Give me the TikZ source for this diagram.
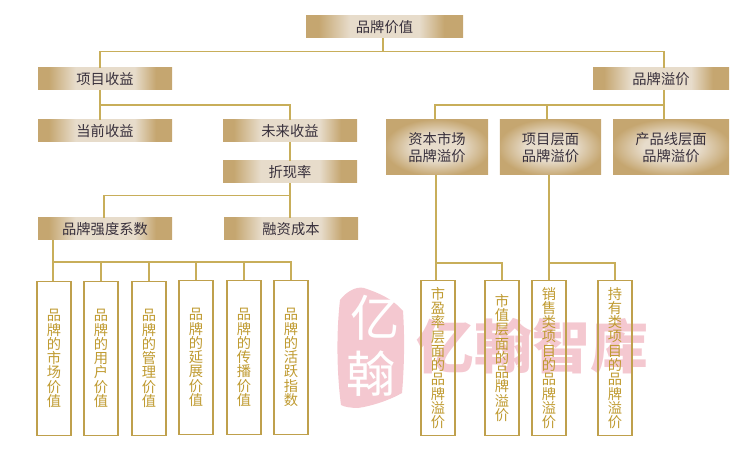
\documentclass[tikz,border=0pt]{standalone}
\usepackage{fontspec}
\newfontfamily\cjk{Noto Sans CJK SC}
\definecolor{goldA}{HTML}{C5A670}
\definecolor{goldB}{HTML}{E7DCCB}
\definecolor{lineG}{HTML}{C8AE5A}
\definecolor{boxG}{HTML}{BFA04C}
\definecolor{txtG}{HTML}{BF9A30}
\definecolor{txtD}{HTML}{38303C}
\definecolor{markP}{HTML}{F4C8D0}
\pgfdeclarehorizontalshading{goldbar}{100bp}{color(0bp)=(goldA); color(29bp)=(goldA); color(39bp)=(goldB); color(61bp)=(goldB); color(69bp)=(goldA); color(100bp)=(goldA)}
\pgfdeclareradialshading{goldglow}{\pgfpoint{0bp}{0bp}}{color(0bp)=(goldB); color(12bp)=(goldB); color(26bp)=(goldA); color(50bp)=(goldA)}
\tikzset{
  x=0.75pt,y=-0.75pt,
  bar/.style={shading=goldbar,inner sep=0pt,minimum height=16.5pt,text=txtD,font=\cjk\fontsize{10.7}{12.8}\selectfont,align=center},
  wide/.style={bar,minimum width=100.5pt},
  glow/.style={shading=goldglow,inner sep=0pt,minimum height=41.25pt,text=txtD,font=\cjk\fontsize{10.7}{12.8}\selectfont,align=center},
  tall/.style={draw=boxG,line width=0.85pt,inner sep=0pt,minimum width=25.5pt,minimum height=116pt,text=txtG,font=\cjk\fontsize{10.7}{10.7}\selectfont,align=center},
  conn/.style={draw=lineG,line width=0.9pt},
}
\begin{document}
\begin{tikzpicture}
\useasboundingbox (0,0) rectangle (746,463);
% watermark
\fill[markP] (340,300) .. controls (346,292) and (356,286) .. (364,288)
  .. controls (376,292) and (392,298) .. (403,311)
  .. controls (405,340) and (404,370) .. (402,393)
  .. controls (390,400) and (372,406) .. (358,408)
  .. controls (352,408) and (344,407) .. (341,405)
  .. controls (337,375) and (336,335) .. (340,300) -- cycle;
\node[text=white,font=\cjk\fontsize{37}{37}\selectfont] (logoA) at (375,318) {亿};
\node[text=white,font=\cjk\fontsize{37}{37}\selectfont] (logoB) at (371,374) {翰};
\node[text=markP,font=\cjk\bfseries\fontsize{43.5}{44}\selectfont,inner sep=0pt] (markT) at (532.5,346) {亿翰智库};
% bars
\node[bar,minimum width=117.75pt] (root) at (384.5,27) {品牌价值};
\node[wide] (xm) at (105,79) {项目收益};
\node[bar,minimum width=102pt] (yj) at (661,79) {品牌溢价};
\node[wide] (dq) at (105,131) {当前收益};
\node[wide] (wl) at (290,131) {未来收益};
\node[wide] (zx) at (290,172) {折现率};
\node[wide] (qd) at (105,229) {品牌强度系数};
\node[wide] (rz) at (291,229) {融资成本};
\node[glow,minimum width=76.5pt] (zb) at (437,147.5) {资本市场\\品牌溢价};
\node[glow,minimum width=76pt] (cm) at (550.5,147.5) {项目层面\\品牌溢价};
\node[glow,minimum width=87pt] (cp) at (671,147.5) {产品线层面\\品牌溢价};
% tall boxes
\node[tall] (t1) at (54,358.5) {品\\牌\\的\\市\\场\\价\\值};
\node[tall] (t2) at (101,358.5) {品\\牌\\的\\用\\户\\价\\值};
\node[tall] (t3) at (149,358.5) {品\\牌\\的\\管\\理\\价\\值};
\node[tall] (t4) at (196,357.5) {品\\牌\\的\\延\\展\\价\\值};
\node[tall] (t5) at (244,357.5) {品\\牌\\的\\传\\播\\价\\值};
\node[tall] (t6) at (291,357.5) {品\\牌\\的\\活\\跃\\指\\数};
\node[tall] (r1) at (438,358) {市\\盈\\率\\层\\面\\的\\品\\牌\\溢\\价};
\node[tall] (r2) at (502,358) {市\\值\\层\\面\\的\\品\\牌\\溢\\价};
\node[tall] (r3) at (549,358) {销\\售\\类\\项\\目\\的\\品\\牌\\溢\\价};
\node[tall] (r4) at (615,358) {持\\有\\类\\项\\目\\的\\品\\牌\\溢\\价};
% junctions
\coordinate (jRoot) at (383,51.5);
\coordinate (jXm) at (100,105);
\coordinate (jYj) at (664,105);
\coordinate (jCm) at (547,105);
\coordinate (jZb) at (435,105);
\coordinate (jZx) at (290,195.5);
\coordinate (jQdT) at (104,195.5);
\coordinate (jQd) at (53,262);
\coordinate (jZbB) at (436,263);
\coordinate (jCmB) at (549,263);
% connectors
\draw[conn] (root.south -| jRoot) -- (jRoot);
\draw[conn] (jRoot) -| (xm.north -| jXm);
\draw[conn] (jRoot) -| (yj.north -| jYj);
\draw[conn] (xm.south -| jXm) -- (dq.north -| jXm);
\draw[conn] (jXm) -| (wl.north);
\draw[conn] (wl.south) -- (zx.north);
\draw[conn] (zx.south) -- (rz.north -| zx.south);
\draw[conn] (jZx) -| (qd.north -| jQdT);
\draw[conn] (yj.south -| jYj) -- (cp.north -| jYj);
\draw[conn] (jYj) -| (zb.north -| jZb);
\draw[conn] (jCm) -- (cm.north -| jCm);
\draw[conn] (qd.south -| jQd) -- (t1.north -| jQd);
\draw[conn] (jQd) -| (t2.north);
\draw[conn] (jQd) -| (t3.north);
\draw[conn] (jQd) -| (t4.north);
\draw[conn] (jQd) -| (t5.north);
\draw[conn] (jQd) -| (t6.north);
\draw[conn] (zb.south -| jZbB) -- (r1.north -| jZbB);
\draw[conn] (jZbB) -| (r2.north);
\draw[conn] (cm.south -| jCmB) -- (r3.north -| jCmB);
\draw[conn] (jCmB) -| (r4.north);
\end{tikzpicture}
\end{document}
